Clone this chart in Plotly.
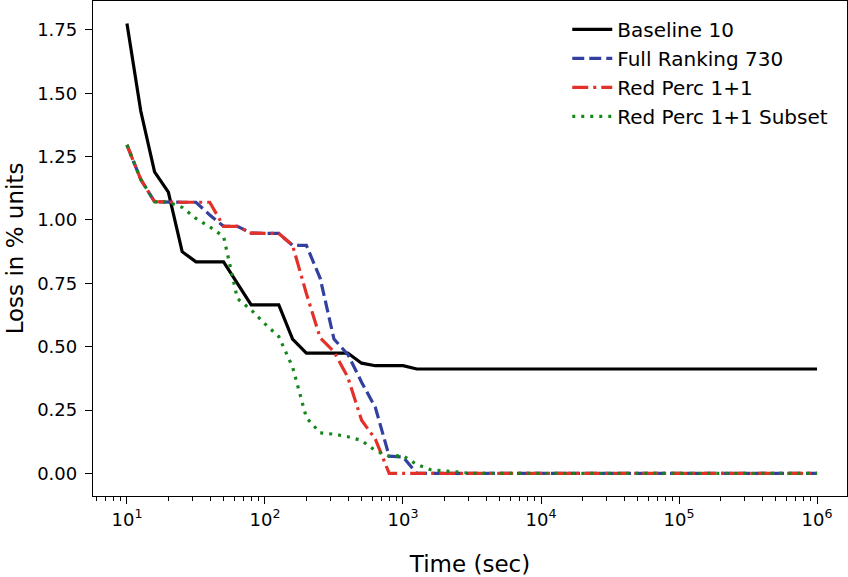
import plotly.graph_objects as go

time_sec = [10, 12.59, 15.85, 19.95, 25.12, 31.62, 39.81, 50.12, 63.10, 79.43, 100,
            125.9, 158.5, 199.5, 251.2, 316.2, 398.1, 501.2, 631.0, 794.3, 1000,
            1259, 1585, 1995, 2512, 3162, 1000000]

baseline_10 = [1.775, 1.43, 1.19, 1.11, 0.875, 0.835, 0.835, 0.835, 0.75, 0.665, 0.665,
               0.665, 0.53, 0.475, 0.475, 0.475, 0.475, 0.435, 0.425, 0.425, 0.425,
               0.412, 0.412, 0.412, 0.412, 0.412, 0.412]
full_ranking_730 = [1.296, 1.16, 1.072, 1.07, 1.07, 1.07, 1.02, 0.975, 0.975, 0.948, 0.947,
                    0.947, 0.90, 0.90, 0.77, 0.53, 0.47, 0.36, 0.26, 0.068, 0.065,
                    0.0, 0.0, 0.0, 0.0, 0.0, 0.0]
red_perc = [1.296, 1.16, 1.072, 1.07, 1.07, 1.07, 1.07, 0.975, 0.975, 0.948, 0.947,
            0.947, 0.90, 0.71, 0.535, 0.48, 0.38, 0.21, 0.135, 0.0, 0.0,
            0.0, 0.0, 0.0, 0.0, 0.0, 0.0]
red_perc_subset = [1.296, 1.16, 1.072, 1.07, 1.05, 1.006, 0.973, 0.935, 0.69, 0.645, 0.59,
                   0.54, 0.42, 0.22, 0.16, 0.155, 0.145, 0.13, 0.09, 0.068, 0.07,
                   0.035, 0.015, 0.01, 0.002, 0.0, 0.0]

x_tick_vals = [10, 100, 1000, 10000, 100000, 1000000]
x_tick_text = ["10<sup>1</sup>", "10<sup>2</sup>", "10<sup>3</sup>", "10<sup>4</sup>",
               "10<sup>5</sup>", "10<sup>6</sup>"]
y_tick_vals = [0.0, 0.25, 0.5, 0.75, 1.0, 1.25, 1.5, 1.75]
y_tick_text = ["0.00", "0.25", "0.50", "0.75", "1.00", "1.25", "1.50", "1.75"]

minor_vals = [m * 10 ** k for k in range(0, 7) for m in range(2, 10)]

series = [
    ("Baseline 10", baseline_10, "#000000", "solid"),
    ("Full Ranking 730", full_ranking_730, "#3240a0", "12px,5px"),
    ("Red Perc 1+1", red_perc, "#e3312a", "16px,5px,3px,5px"),
    ("Red Perc 1+1 Subset", red_perc_subset, "#14861a", "3px,6px"),
]

fig = go.Figure()
for name, vals, color, dash in series:
    fig.add_trace(go.Scatter(x=time_sec, y=vals, mode="lines", name=name,
                             line=dict(color=color, width=3.2, dash=dash)))

font_family = "DejaVu Sans"
fig.update_layout(
    width=848, height=577,
    margin=dict(l=93, r=1, t=1, b=81),
    paper_bgcolor="white", plot_bgcolor="white",
    font=dict(family=font_family, color="black", size=18),
    showlegend=True,
    legend=dict(x=0.629, y=0.982, xanchor="left", yanchor="top",
                font=dict(size=20, family=font_family), bgcolor="rgba(0,0,0,0)",
                itemwidth=40, tracegroupgap=0),
    xaxis=dict(type="log", range=[0.754, 6.217], tickvals=x_tick_vals, ticktext=x_tick_text,
               ticks="outside", ticklen=7, tickwidth=1.3, tickcolor="black",
               showline=True, linecolor="black", linewidth=1.3, mirror=True,
               showgrid=False, zeroline=False, automargin=False,
               tickfont=dict(size=18),
               minor=dict(tickvals=minor_vals, ticks="outside", ticklen=4, tickwidth=1,
                          tickcolor="black", showgrid=False),
               title=dict(text="Time (sec)", font=dict(size=23), standoff=27)),
    yaxis=dict(range=[-0.089, 1.864], tickvals=y_tick_vals, ticktext=y_tick_text,
               ticks="outside", ticklen=7, tickwidth=1.3, tickcolor="black",
               showline=True, linecolor="black", linewidth=1.3, mirror=True,
               showgrid=False, zeroline=False, automargin=False,
               tickfont=dict(size=18), ticklabelstandoff=4,
               title=dict(text="Loss in % units", font=dict(size=23), standoff=7)),
)

fig.write_html("out.html", config={"displayModeBar": False},
               post_script="document.body.style.margin='0';document.body.style.padding='0';")
